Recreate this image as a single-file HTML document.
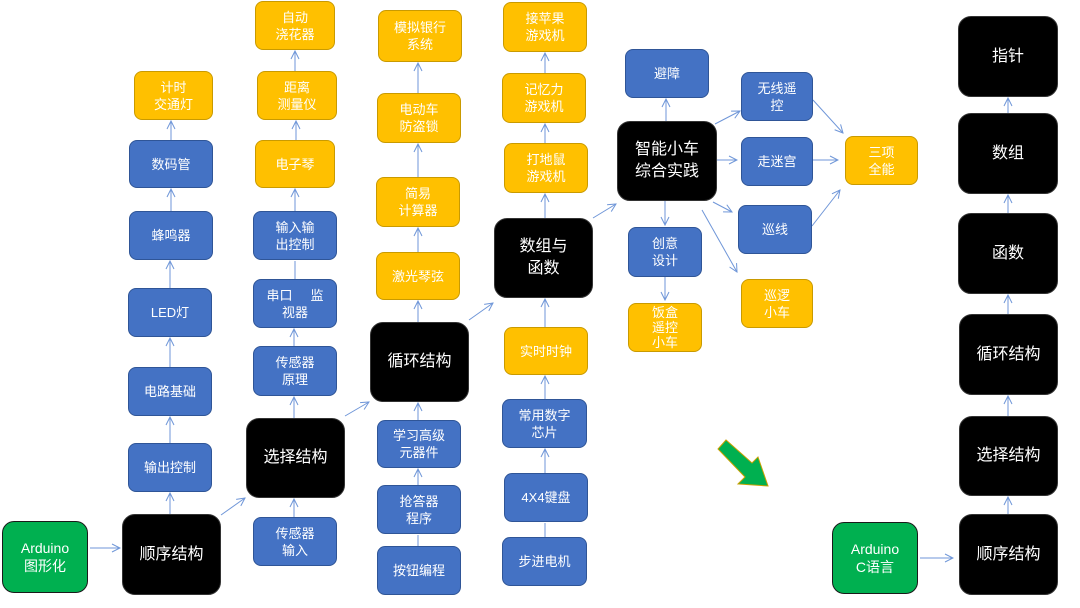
<!DOCTYPE html>
<html><head><meta charset="utf-8"><style>
body{margin:0;width:1080px;height:608px;background:#fff;position:relative;overflow:hidden;font-family:"Liberation Sans","Noto Sans CJK SC",sans-serif}
.b{position:absolute;box-sizing:border-box;display:flex;align-items:center;justify-content:center;text-align:center;color:#fff;font-size:13px;line-height:17px;border-radius:8px}
.u{background:#4472c4;border:1px solid #2f5597}
.o{background:#ffc000;border:1px solid #c99a00}
.k{background:#000;border:1px solid #333;border-radius:13px;font-size:16px;line-height:22px}
.g{background:#00b050;border:1.5px solid #1a1a1a;border-radius:12px;font-size:14px;line-height:18px}
svg{position:absolute;left:0;top:0}
</style></head><body>
<svg width="1080" height="608">
<defs><marker id="a" markerWidth="10" markerHeight="10" refX="9" refY="5" orient="auto" markerUnits="userSpaceOnUse"><polyline points="1,1 9,5 1,9" fill="none" stroke="#6f96d8" stroke-width="1"/></marker></defs>
<g stroke="#6f96d8" stroke-width="1" fill="none" marker-end="url(#a)">
<line x1="90" y1="548" x2="120" y2="548"/>
<line x1="170" y1="514" x2="170" y2="493"/>
<line x1="170" y1="443" x2="170" y2="417"/>
<line x1="170" y1="367" x2="170" y2="338"/>
<line x1="170" y1="288" x2="170" y2="261"/>
<line x1="171" y1="211" x2="171" y2="189"/>
<line x1="171" y1="140" x2="171" y2="121"/>
<line x1="221" y1="515" x2="245" y2="498"/>
<line x1="294" y1="517" x2="294" y2="499"/>
<line x1="294" y1="418" x2="294" y2="397"/>
<line x1="294" y1="346" x2="294" y2="329"/>
<line x1="295" y1="211" x2="295" y2="189"/>
<line x1="296" y1="140" x2="296" y2="121"/>
<line x1="295" y1="71" x2="295" y2="51"/>
<line x1="345" y1="416" x2="369" y2="402"/>
<line x1="418" y1="485" x2="418" y2="469"/>
<line x1="418" y1="420" x2="418" y2="403"/>
<line x1="418" y1="322" x2="418" y2="301"/>
<line x1="418" y1="252" x2="418" y2="228"/>
<line x1="418" y1="177" x2="418" y2="144"/>
<line x1="418" y1="93" x2="418" y2="63"/>
<line x1="469" y1="320" x2="493" y2="303"/>
<line x1="545" y1="473" x2="545" y2="449"/>
<line x1="545" y1="399" x2="545" y2="376"/>
<line x1="545" y1="327" x2="545" y2="299"/>
<line x1="545" y1="218" x2="545" y2="194"/>
<line x1="545" y1="143" x2="545" y2="124"/>
<line x1="545" y1="73" x2="545" y2="53"/>
<line x1="593" y1="218" x2="616" y2="204"/>
<line x1="666" y1="121" x2="666" y2="99"/>
<line x1="715" y1="124" x2="740" y2="111"/>
<line x1="717" y1="160" x2="737" y2="160"/>
<line x1="713" y1="202" x2="732" y2="212"/>
<line x1="702" y1="210" x2="737" y2="272"/>
<line x1="665" y1="201" x2="665" y2="225"/>
<line x1="665" y1="277" x2="665" y2="300"/>
<line x1="813" y1="100" x2="843" y2="133"/>
<line x1="813" y1="160" x2="838" y2="160"/>
<line x1="812" y1="226" x2="840" y2="190"/>
<line x1="920" y1="558" x2="953" y2="558"/>
<line x1="1008" y1="514" x2="1008" y2="497"/>
<line x1="1008" y1="416" x2="1008" y2="396"/>
<line x1="1008" y1="314" x2="1008" y2="295"/>
<line x1="1008" y1="213" x2="1008" y2="195"/>
<line x1="1008" y1="113" x2="1008" y2="98"/>
</g>
<g stroke="#6f96d8" stroke-width="1"><line x1="418" y1="546" x2="418" y2="535"/><line x1="545" y1="537" x2="545" y2="523"/><line x1="295" y1="279" x2="295" y2="261"/></g>
<polygon points="718,449 726,440 752,463 758,457 768,486 738,484 745,477" fill="#00b050" stroke="#c9a000" stroke-width="1"/>
</svg>
<div class="b g" style="left:2px;top:521px;width:86px;height:72px">Arduino<br>图形化</div>
<div class="b k" style="left:122px;top:514px;width:99px;height:81px">顺序结构</div>
<div class="b u" style="left:128px;top:443px;width:84px;height:49px">输出控制</div>
<div class="b u" style="left:128px;top:367px;width:84px;height:49px">电路基础</div>
<div class="b u" style="left:128px;top:288px;width:84px;height:49px">LED灯</div>
<div class="b u" style="left:129px;top:211px;width:84px;height:49px">蜂鸣器</div>
<div class="b u" style="left:129px;top:140px;width:84px;height:48px">数码管</div>
<div class="b o" style="left:134px;top:71px;width:79px;height:49px">计时<br>交通灯</div>
<div class="b o" style="left:255px;top:1px;width:80px;height:49px">自动<br>浇花器</div>
<div class="b o" style="left:257px;top:71px;width:80px;height:49px">距离<br>测量仪</div>
<div class="b o" style="left:255px;top:140px;width:80px;height:48px">电子琴</div>
<div class="b u" style="left:253px;top:211px;width:84px;height:49px">输入输<br>出控制</div>
<div class="b u" style="left:253px;top:279px;width:84px;height:49px">串口&nbsp;&nbsp;&nbsp;&nbsp;&nbsp;监<br>视器</div>
<div class="b u" style="left:253px;top:346px;width:84px;height:50px">传感器<br>原理</div>
<div class="b k" style="left:246px;top:418px;width:99px;height:80px">选择结构</div>
<div class="b u" style="left:253px;top:517px;width:84px;height:49px">传感器<br>输入</div>
<div class="b o" style="left:378px;top:10px;width:84px;height:52px">模拟银行<br>系统</div>
<div class="b o" style="left:377px;top:93px;width:84px;height:50px">电动车<br>防盗锁</div>
<div class="b o" style="left:376px;top:177px;width:84px;height:50px">简易<br>计算器</div>
<div class="b o" style="left:376px;top:252px;width:84px;height:48px">激光琴弦</div>
<div class="b k" style="left:370px;top:322px;width:99px;height:80px">循环结构</div>
<div class="b u" style="left:377px;top:420px;width:84px;height:48px">学习高级<br>元器件</div>
<div class="b u" style="left:377px;top:485px;width:84px;height:49px">抢答器<br>程序</div>
<div class="b u" style="left:377px;top:546px;width:84px;height:49px">按钮编程</div>
<div class="b o" style="left:503px;top:2px;width:84px;height:50px">接苹果<br>游戏机</div>
<div class="b o" style="left:502px;top:73px;width:84px;height:50px">记忆力<br>游戏机</div>
<div class="b o" style="left:504px;top:143px;width:84px;height:50px">打地鼠<br>游戏机</div>
<div class="b k" style="left:494px;top:218px;width:99px;height:80px">数组与<br>函数</div>
<div class="b o" style="left:504px;top:327px;width:84px;height:48px">实时时钟</div>
<div class="b u" style="left:502px;top:399px;width:85px;height:49px">常用数字<br>芯片</div>
<div class="b u" style="left:504px;top:473px;width:84px;height:49px">4X4键盘</div>
<div class="b u" style="left:502px;top:537px;width:85px;height:49px">步进电机</div>
<div class="b u" style="left:625px;top:49px;width:84px;height:49px">避障</div>
<div class="b k" style="left:617px;top:121px;width:100px;height:80px">智能小车<br>综合实践</div>
<div class="b u" style="left:741px;top:72px;width:72px;height:49px">无线遥<br>控</div>
<div class="b u" style="left:741px;top:137px;width:72px;height:49px">走迷宫</div>
<div class="b u" style="left:738px;top:205px;width:74px;height:49px">巡线</div>
<div class="b o" style="left:741px;top:279px;width:72px;height:49px">巡逻<br>小车</div>
<div class="b o" style="left:845px;top:136px;width:73px;height:49px">三项<br>全能</div>
<div class="b u" style="left:628px;top:227px;width:74px;height:50px">创意<br>设计</div>
<div class="b o" style="left:628px;top:303px;width:74px;height:49px;line-height:15px">饭盒<br>遥控<br>小车</div>
<div class="b k" style="left:958px;top:16px;width:100px;height:81px">指针</div>
<div class="b k" style="left:958px;top:113px;width:100px;height:81px">数组</div>
<div class="b k" style="left:958px;top:213px;width:100px;height:81px">函数</div>
<div class="b k" style="left:959px;top:314px;width:99px;height:81px">循环结构</div>
<div class="b k" style="left:959px;top:416px;width:99px;height:80px">选择结构</div>
<div class="b k" style="left:959px;top:514px;width:99px;height:81px">顺序结构</div>
<div class="b g" style="left:832px;top:522px;width:86px;height:72px">Arduino<br>C语言</div>
</body></html>
